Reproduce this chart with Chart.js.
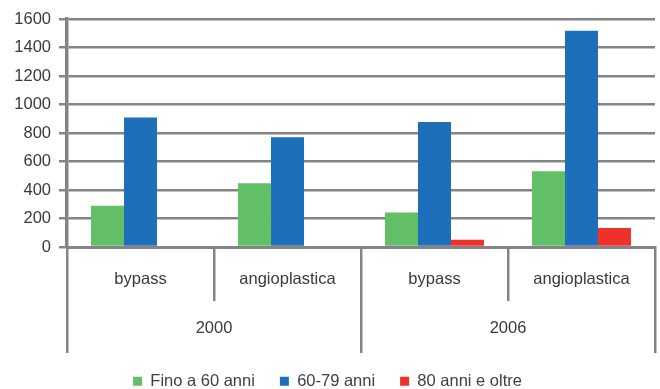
<!DOCTYPE html>
<html>
<head>
<meta charset="utf-8">
<script src="https://cdn.jsdelivr.net/npm/chart.js@4/dist/chart.umd.min.js"></script>
<style>
  html, body { margin: 0; padding: 0; background: #ffffff; }
  #wrap { width: 660px; height: 389px; }
</style>
</head>
<body>
<div id="wrap"><canvas id="chart" width="660" height="389"></canvas></div>
<script>
// Interventi per tipo e fascia d'età
const categories = ['bypass', 'angioplastica', 'bypass', 'angioplastica'];
const years = ['2000', '2006'];
const seriesNames = ['Fino a 60 anni', '60-79 anni', '80 anni e oltre'];
const fino60 = [290, 448, 242, 532];
const eta6079 = [908, 770, 878, 1518];
const oltre80 = [0, 0, 51, 133];
const yTicksMax = 1600;
const yTicksStep = 200;

const GRID = '#848488';
const TEXT = '#3a3a3a';
const FONT = { family: '"Liberation Sans", Arial, sans-serif', size: 16.5 };

Chart.defaults.font.family = FONT.family;
Chart.defaults.font.size = FONT.size;
Chart.defaults.color = TEXT;

const colors = ['#63be68', '#1c6fb8', '#ee3129'];
const values = [fino60, eta6079, oltre80];

new Chart(document.getElementById('chart'), {
  type: 'bar',
  data: {
    labels: categories,
    datasets: seriesNames.map((name, i) => ({
      label: name,
      data: values[i],
      backgroundColor: colors[i],
      borderWidth: 0,
      categoryPercentage: 0.673,
      barPercentage: 1.0,
      xAxisID: 'x',
      yAxisID: 'y'
    }))
  },
  options: {
    responsive: false,
    animation: false,
    devicePixelRatio: 1,
    layout: { padding: { left: 0, right: 5, top: 19, bottom: 0 } },
    plugins: {
      tooltip: { enabled: false },
      legend: {
        position: 'bottom',
        maxHeight: 41,
        labels: {
          boxWidth: 9,
          boxHeight: 9,
          padding: 25,
          color: '#404040',
          font: FONT
        }
      }
    },
    scales: {
      x: {
        type: 'category',
        weight: 0,
        offset: true,
        grid: {
          offset: true,
          drawOnChartArea: false,
          drawTicks: true,
          tickLength: 54,
          color: GRID,
          lineWidth: 2.5
        },
        border: { display: true, color: GRID, width: 3 },
        ticks: { padding: -31, color: TEXT, font: FONT, maxRotation: 0 },
        afterFit(scale) { scale.height = 54; }
      },
      x2: {
        type: 'category',
        position: 'bottom',
        weight: 1,
        labels: years,
        offset: true,
        grid: {
          offset: true,
          drawOnChartArea: false,
          drawTicks: true,
          tickLength: 52,
          color: GRID,
          lineWidth: 2.5
        },
        border: { display: false },
        ticks: { padding: -34, color: TEXT, font: FONT, maxRotation: 0 },
        afterFit(scale) { scale.height = 47; }
      },
      y: {
        min: 0,
        max: yTicksMax,
        grid: { color: GRID, lineWidth: 2.5, tickLength: 8, drawTicks: true },
        border: { display: true, color: GRID, width: 3.5 },
        ticks: {
          stepSize: yTicksStep,
          padding: 8,
          color: TEXT,
          font: FONT,
          callback: (v) => String(v)
        },
        afterFit(scale) { scale.width = 67; }
      }
    }
  }
});
</script>
</body>
</html>
